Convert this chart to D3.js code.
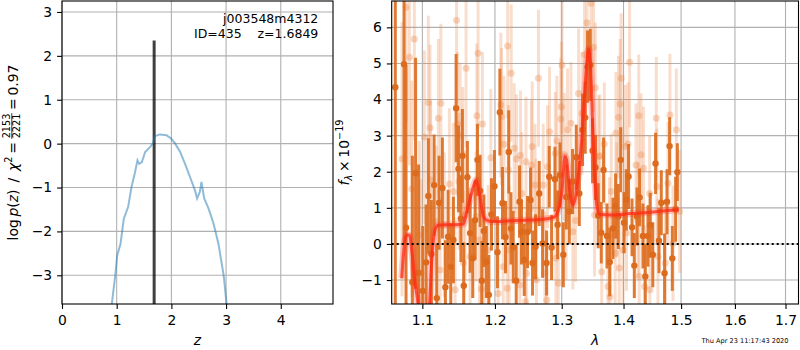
<!DOCTYPE html>
<html>
<head>
<meta charset="utf-8">
<script src="https://cdn.jsdelivr.net/npm/d3@7"></script>
<style>
  body { margin: 0; background: #fff; }
  svg text { font-family: "DejaVu Sans", sans-serif; }
</style>
</head>
<body>
<svg id="chart" width="800" height="350"></svg>
<script>
// ---------- left panel: log p(z)
const zGrid = [0.91, 0.97, 1.01, 1.07, 1.13, 1.21, 1.27, 1.33, 1.38, 1.41, 1.46, 1.52, 1.61, 1.66, 1.70, 1.79, 1.91,
               2.00, 2.07, 2.16, 2.25, 2.34, 2.43, 2.47, 2.52, 2.55, 2.60, 2.68, 2.77, 2.86, 2.92, 2.96, 3.01];
const logPz = [-3.66, -3.04, -2.54, -2.28, -1.71, -1.44, -0.99, -0.68, -0.38, -0.46, -0.42, -0.19, -0.08, 0.00, 0.17, 0.21, 0.19,
               0.11, 0.00, -0.19, -0.46, -0.76, -1.06, -1.25, -1.10, -0.87, -1.25, -1.48, -1.82, -2.28, -2.73, -3.04, -3.66];
const zBest = 1.6849;
const zBestTop = 2.35;
const objName = "j003548m4312";
const objLine = "ID=435    z=1.6849";
const zTicks = [0, 1, 2, 3, 4];
const pzTicks = [-3, -2, -1, 0, 1, 2, 3];

// ---------- right panel: spectrum (dark = main beam, light = other beams)
const darkWave = [1.0649, 1.0761, 1.0787, 1.0869, 1.0911, 1.0950, 1.1005, 1.1049, 1.1079, 1.1119,
                  1.1156, 1.1192, 1.1223, 1.1267, 1.1308, 1.1345, 1.1381, 1.1417, 1.1454, 1.1486,
                  1.1520, 1.1541, 1.1560, 1.1610, 1.1648, 1.1685, 1.1718, 1.1751, 1.1789, 1.1813,
                  1.1841, 1.1877, 1.1913, 1.1950, 1.1993, 1.2036, 1.2071, 1.2109, 1.2153, 1.2200,
                  1.2232, 1.2266, 1.2310, 1.2359, 1.2388, 1.2429, 1.2478, 1.2523, 1.2553, 1.2598,
                  1.2654, 1.2705, 1.2766, 1.2807, 1.2843, 1.2895, 1.2936, 1.2973, 1.3025, 1.3072,
                  1.3119, 1.3170, 1.3229, 1.3277, 1.3329, 1.3372, 1.3409, 1.3453, 1.3490, 1.3538,
                  1.3582, 1.3631, 1.3669, 1.3725, 1.3771, 1.3824, 1.3867, 1.3912, 1.3954, 1.4008,
                  1.4046, 1.4085, 1.4143, 1.4182, 1.4228, 1.4272, 1.4330, 1.4370, 1.4416, 1.4456,
                  1.4500, 1.4548, 1.4608, 1.4648, 1.4706, 1.4749, 1.4795, 1.4843, 1.4902, 1.4933];
const darkFlux = [4.34, 4.98, 0.45, -1.06, 1.96, -0.80, -1.30, -0.51, 1.33, -0.28,
                  1.63, -1.50, 1.14, 1.55, -1.20, 0.20, -0.63, 0.11, 3.76, 2.08,
                  0.70, 2.44, -1.16, 1.85, 0.30, -0.40, 0.66, 2.33, 1.47, -1.02,
                  0.36, -0.50, -1.41, 0.82, 1.60, -0.23, 3.65, 1.13, 0.19, 2.55,
                  0.43, -0.09, -1.02, 1.17, 0.33, -0.44, 0.33, 1.22, -0.53, -0.08,
                  1.40, 0.01, -0.53, 1.86, -0.10, 1.79, 0.53, 1.91, -0.30, 1.30,
                  0.90, 1.73, 2.40, 1.40, 3.16, 3.50, 4.91, 4.96, 2.58, 2.12,
                  0.78, 0.31, 2.05, 0.22, -0.50, 0.43, 1.05, 0.76, 2.33, 0.59,
                  1.22, 1.87, 0.46, -0.60, 0.76, 1.29, 0.22, -0.90, 0.22, 0.52,
                  -0.30, 2.23, 0.09, 1.14, -0.81, 1.17, 2.71, -0.40, 0.96, 1.99];
const darkErr = [6.0, 5.0, 4.5, 3.5, 3.2, 3.0, 1.8, 1.6, 1.6, 1.5,
                 1.4, 1.5, 1.3, 1.4, 1.3, 1.3, 1.2, 1.2, 1.5, 1.2,
                 1.2, 1.3, 1.2, 1.0, 1.1, 1.1, 1.1, 1.0, 1.0, 1.1,
                 1.0, 1.0, 1.1, 1.0, 1.0, 1.0, 1.2, 1.0, 1.0, 1.15,
                 1.0, 1.0, 1.0, 1.0, 0.9, 1.0, 1.0, 0.9, 0.9, 0.9,
                 0.9, 0.95, 0.9, 0.85, 0.9, 0.9, 0.95, 0.9, 0.9, 0.9,
                 0.9, 0.9, 0.9, 0.9, 1.0, 1.0, 1.0, 1.0, 0.9, 0.9,
                 0.9, 0.85, 0.9, 0.9, 0.95, 0.85, 0.9, 0.9, 0.9, 0.85,
                 0.85, 0.9, 0.8, 0.9, 0.8, 0.8, 0.9, 0.9, 0.85, 0.9,
                 0.9, 0.85, 0.9, 0.9, 1.1, 0.9, 0.8, 0.9, 0.9, 0.8];

const lightWave = [1.0735, 1.0787, 1.0830, 1.0861, 1.0895, 1.0960, 1.0985, 1.1026, 1.1079, 1.1102,
                   1.1110, 1.1182, 1.1213, 1.1236, 1.1247, 1.1294, 1.1362, 1.1417, 1.1440, 1.1460,
                   1.1474, 1.1495, 1.1509, 1.1546, 1.1555, 1.1578, 1.1592, 1.1648, 1.1732, 1.1742,
                   1.1760, 1.1779, 1.1805, 1.1821, 1.1846, 1.1902, 1.1941, 1.2046, 1.2085, 1.2095,
                   1.2119, 1.2130, 1.2177, 1.2185, 1.2195, 1.2205, 1.2236, 1.2280, 1.2314, 1.2365,
                   1.2372, 1.2392, 1.2448, 1.2455, 1.2462, 1.2538, 1.2548, 1.2590, 1.2604, 1.2612,
                   1.2643, 1.2715, 1.2741, 1.2770, 1.2781, 1.2811, 1.2900, 1.2910, 1.2925, 1.2947,
                   1.2985, 1.2995, 1.3005, 1.3041, 1.3068, 1.3091, 1.3144, 1.3175, 1.3217, 1.3265,
                   1.3319, 1.3361, 1.3400, 1.3464, 1.3506, 1.3522, 1.3534, 1.3587, 1.3610, 1.3638,
                   1.3681, 1.3741, 1.3767, 1.3775, 1.3795, 1.3860, 1.3873, 1.3885, 1.3916, 1.3928,
                   1.3944, 1.3960, 1.3991, 1.4030, 1.4050, 1.4075, 1.4102, 1.4211, 1.4245, 1.4258,
                   1.4265, 1.4297, 1.4340, 1.4358, 1.4445, 1.4450, 1.4561, 1.4570, 1.4590, 1.4718,
                   1.4766, 1.4800, 1.4855, 1.4915, 1.4973];
const lightFlux = [2.35, 6.56, 5.17, 1.52, 5.68, 0.25, -0.81, 2.96, 3.92, 3.22,
                   1.77, 0.62, 3.48, -0.72, 3.90, 0.53, 1.66, 1.45, -1.27, 6.20,
                   3.32, 1.73, 3.02, 2.45, -0.53, 0.80, 4.87, -0.35, 0.76, 3.55,
                   5.28, 0.11, -1.25, 3.32, -0.40, -0.17, 2.39, -1.37, 3.85, 3.53,
                   -0.63, 2.76, -1.23, 5.48, 2.05, -0.17, 4.73, 2.65, 2.35, -1.14,
                   2.45, 1.40, -1.60, 2.28, -0.81, 2.19, 2.70, 1.63, 0.66, -1.00,
                   4.59, 1.63, -0.81, -1.55, 2.14, 3.11, 2.51, -0.40, 2.86, -1.09,
                   3.46, 3.80, 4.96, 2.48, 0.71, 3.16, 3.34, 0.34, 0.65, 4.17,
                   3.62, 5.25, 6.13, 6.67, 5.45, 0.80, 4.33, 2.42, 2.44, -0.77,
                   2.77, -1.18, 0.25, -1.46, 1.45, -0.26, 3.07, 1.22, 3.51, -0.67,
                   3.88, 4.59, -0.17, 2.70, 0.30, 2.77, 5.03, 2.19, 0.66, 3.55,
                   -0.90, 2.47, 2.10, -1.18, 1.40, -1.27, 3.48, 1.59, -0.35, -0.53,
                   1.68, 3.57, 0.02, 3.16, 0.90];
const lightErr = [3.8, 3.2, 3.0, 3.0, 2.8, 2.6, 2.6, 2.4, 2.4, 2.3,
                  2.2, 2.1, 2.2, 2.0, 2.2, 2.0, 2.1, 1.9, 2.0, 2.3,
                  2.0, 1.9, 2.0, 1.9, 2.0, 1.8, 2.2, 1.9, 1.8, 2.0,
                  2.1, 1.8, 1.9, 2.0, 1.8, 1.8, 1.9, 1.9, 2.0, 1.9,
                  1.8, 1.9, 1.9, 2.0, 1.8, 1.8, 1.9, 1.8, 1.8, 1.8,
                  1.8, 1.7, 1.9, 1.8, 1.7, 1.8, 1.8, 1.7, 1.7, 1.8,
                  1.9, 1.7, 1.7, 1.8, 1.7, 1.8, 1.7, 1.7, 1.8, 1.8,
                  1.7, 1.8, 1.9, 1.7, 1.7, 1.7, 1.7, 1.6, 1.7, 1.8,
                  1.7, 1.8, 1.9, 1.9, 1.8, 1.7, 1.8, 1.7, 1.7, 1.7,
                  1.7, 1.7, 1.6, 1.7, 1.6, 1.6, 1.7, 1.6, 1.7, 1.7,
                  1.8, 1.8, 1.6, 1.7, 1.6, 1.7, 1.8, 1.7, 1.6, 1.7,
                  1.7, 1.7, 1.7, 1.7, 1.6, 1.7, 1.7, 1.6, 1.6, 1.7,
                  1.7, 1.7, 1.6, 1.7, 1.7];

// best-fit template
const modelWave = [1.0731, 1.0774, 1.0800, 1.0830, 1.0861, 1.0904, 1.0947, 1.0985, 1.1040, 1.1093,
                   1.1125, 1.1169, 1.1213, 1.1304, 1.1440, 1.1555, 1.1602, 1.1648, 1.1694, 1.1732,
                   1.1765, 1.1803, 1.1835, 1.1888, 1.1960, 1.2221, 1.2518, 1.2745, 1.2882, 1.2950,
                   1.3005, 1.3050, 1.3078, 1.3102, 1.3140, 1.3181, 1.3217, 1.3271, 1.3316, 1.3356,
                   1.3396, 1.3428, 1.3460, 1.3493, 1.3525, 1.3557, 1.3598, 1.3779, 1.4114, 1.4456,
                   1.4718, 1.4956];
const modelFlux = [-0.95, 0.11, 0.25, 0.25, -0.17, -1.09, -1.75, -3.0, -3.0, -1.75,
                   -0.44, 0.39, 0.52, 0.53, 0.53, 0.55, 0.90, 1.25, 1.59, 1.77,
                   1.55, 1.10, 0.76, 0.65, 0.62, 0.64, 0.66, 0.69, 0.74, 0.94,
                   1.50, 2.42, 2.30, 1.90, 1.30, 1.08, 1.30, 2.05, 2.90, 4.00,
                   5.00, 5.40, 4.80, 3.20, 1.90, 1.10, 0.82, 0.80, 0.84, 0.88,
                   0.92, 0.95];

const waveTicks = [1.1, 1.2, 1.3, 1.4, 1.5, 1.6, 1.7];
const fluxTicks = [-1, 0, 1, 2, 3, 4, 5, 6];
const stamp = "Thu Apr 23 11:17:43 2020";

// ---------- drawing
const svg = d3.select("#chart");
const fontSize = 13.9;
const gridColor = "#b0b0b0";
const orange = "#dd6b1d";

const boxL = {x0: 62, x1: 333, y0: 1, y1: 304};
const boxR = {x0: 391.7, x1: 798.5, y0: 1, y1: 304};

const xL = d3.scaleLinear().domain([0, 4.955]).range([boxL.x0, boxL.x1]);
const yL = d3.scaleLinear().domain([-3.654, 3.25]).range([boxL.y1, boxL.y0]);
const xR = d3.scaleLog().domain([1.0603, 1.7267]).range([boxR.x0, boxR.x1]);
const yR = d3.scaleLinear().domain([-1.664, 6.73]).range([boxR.y1, boxR.y0]);

const defs = svg.append("defs");
[["clipL", boxL], ["clipR", boxR]].forEach(([id, b]) => {
    defs.append("clipPath").attr("id", id).append("rect")
        .attr("x", b.x0).attr("y", b.y0).attr("width", b.x1 - b.x0).attr("height", b.y1 - b.y0);
});

function drawGrid(box, xs, ys, xt, yt) {
    let g = svg.append("g").attr("stroke", gridColor).attr("stroke-width", 1.1);
    g.selectAll(".gx").data(xt).enter().append("line")
        .attr("x1", d => xs(d)).attr("x2", d => xs(d))
        .attr("y1", box.y0).attr("y2", box.y1);
    g.selectAll(".gy").data(yt).enter().append("line")
        .attr("x1", box.x0).attr("x2", box.x1)
        .attr("y1", d => ys(d)).attr("y2", d => ys(d));
}

function styleAxis(g) {
    g.select(".domain").remove();
    g.attr("font-family", "DejaVu Sans").attr("font-size", fontSize);
    g.selectAll("text").attr("fill", "#000");
    g.selectAll("line").attr("stroke", "#000").attr("stroke-width", 1.1);
}

function drawAxes(box, xs, ys, xt, yt, xfmt, yfmt) {
    svg.append("g").attr("transform", `translate(0,${box.y1})`)
        .call(d3.axisBottom(xs).tickValues(xt).tickSize(4.9).tickPadding(5.8).tickFormat(xfmt))
        .call(styleAxis);
    svg.append("g").attr("transform", `translate(${box.x0},0)`)
        .call(d3.axisLeft(ys).tickValues(yt).tickSize(4.9).tickPadding(4.9).tickFormat(yfmt))
        .call(styleAxis);
    svg.append("rect")
        .attr("x", box.x0).attr("y", box.y0)
        .attr("width", box.x1 - box.x0).attr("height", box.y1 - box.y0)
        .attr("fill", "none").attr("stroke", "#000").attr("stroke-width", 1.1);
}

// left panel
drawGrid(boxL, xL, yL, zTicks, pzTicks);

let plotL = svg.append("g").attr("clip-path", "url(#clipL)");

plotL.append("line")
    .attr("x1", xL(zBest)).attr("x2", xL(zBest))
    .attr("y1", yL(-3.654)).attr("y2", yL(zBestTop))
    .attr("stroke", "#000").attr("stroke-opacity", 0.75).attr("stroke-width", 3);

plotL.append("path")
    .datum(d3.zip(zGrid, logPz))
    .attr("fill", "none")
    .attr("stroke", "#1f77b4").attr("stroke-opacity", 0.5).attr("stroke-width", 2)
    .attr("d", d3.line().x(d => xL(d[0])).y(d => yL(d[1])));

drawAxes(boxL, xL, yL, zTicks, pzTicks, d3.format("d"), d3.format("d"));

svg.append("text").attr("x", 318.3).attr("y", 23.3)
    .attr("text-anchor", "end").attr("font-size", 12.5).text(objName);
svg.append("text").attr("x", 318.3).attr("y", 38.3)
    .attr("text-anchor", "end").attr("font-size", 12.5)
    .style("white-space", "pre").text(objLine);

// right panel
drawGrid(boxR, xR, yR, waveTicks, fluxTicks);

let plotR = svg.append("g").attr("clip-path", "url(#clipR)");

let lightData = d3.zip(lightWave, lightFlux, lightErr);
let darkData = d3.zip(darkWave, darkFlux, darkErr);

plotR.append("g").selectAll("line").data(lightData).enter().append("line")
    .attr("x1", d => xR(d[0])).attr("x2", d => xR(d[0]))
    .attr("y1", d => yR(d[1] - d[2])).attr("y2", d => yR(d[1] + d[2]))
    .attr("stroke", "#ec8a4a").attr("stroke-opacity", 0.28).attr("stroke-width", 3);
plotR.append("g").selectAll("circle").data(lightData).enter().append("circle")
    .attr("cx", d => xR(d[0])).attr("cy", d => yR(d[1])).attr("r", 3.5)
    .attr("fill", "#ec8a4a").attr("fill-opacity", 0.35);

plotR.append("g").selectAll("line").data(darkData).enter().append("line")
    .attr("x1", d => xR(d[0])).attr("x2", d => xR(d[0]))
    .attr("y1", d => yR(d[1] - d[2])).attr("y2", d => yR(d[1] + d[2]))
    .attr("stroke", orange).attr("stroke-opacity", 0.9).attr("stroke-width", 3);
plotR.append("g").selectAll("circle").data(darkData).enter().append("circle")
    .attr("cx", d => xR(d[0])).attr("cy", d => yR(d[1])).attr("r", 3.2)
    .attr("fill", orange);

let modelLine = d3.line().curve(d3.curveMonotoneX)
    .x(d => xR(d[0])).y(d => yR(d[1]));
let modelData = d3.zip(modelWave, modelFlux);
plotR.append("path").datum(modelData)
    .attr("fill", "none").attr("stroke", "#ff3030").attr("stroke-opacity", 0.25)
    .attr("stroke-width", 7).attr("d", modelLine);
plotR.append("path").datum(modelData)
    .attr("fill", "none").attr("stroke", "#ff2a10").attr("stroke-opacity", 0.75)
    .attr("stroke-width", 3).attr("d", modelLine);

// zero line
svg.append("line")
    .attr("x1", boxR.x0).attr("x2", boxR.x1)
    .attr("y1", yR(0)).attr("y2", yR(0))
    .attr("stroke", "#000").attr("stroke-width", 2).attr("stroke-dasharray", "2,3");

drawAxes(boxR, xR, yR, waveTicks, fluxTicks, d3.format(".1f"), d3.format("d"));

// axis labels
svg.append("text").attr("x", (boxL.x0 + boxL.x1) / 2).attr("y", 345)
    .attr("text-anchor", "middle").attr("font-size", fontSize).attr("font-style", "italic").text("z");
svg.append("text").attr("x", (boxR.x0 + boxR.x1) / 2).attr("y", 345)
    .attr("text-anchor", "middle").attr("font-size", fontSize).attr("font-style", "italic").text("λ");

// left y label: log p(z) / chi^2 = 2153/2221 = 0.97
let yl = svg.append("g").attr("transform", "translate(17.5,152.5) rotate(-90)");
let ylInner = yl.append("g");
let t1 = ylInner.append("text").attr("font-size", fontSize);
t1.append("tspan").text("log\u2009");
t1.append("tspan").attr("font-style", "italic").text("p");
t1.append("tspan").text("(");
t1.append("tspan").attr("font-style", "italic").text("z");
t1.append("tspan").text(")\u2002/\u2002");
t1.append("tspan").attr("font-style", "italic").text("χ");
t1.append("tspan").attr("font-size", 9.7).attr("dy", -5.5).text("2");
t1.append("tspan").attr("dy", 5.5).text("\u2009=\u2009");
let w1 = t1.node().getComputedTextLength();
let num = ylInner.append("text").attr("font-size", 9.7).attr("text-anchor", "middle").text("2153");
let fw = num.node().getComputedTextLength() + 2;
num.attr("x", w1 + fw / 2).attr("y", -7.3);
ylInner.append("text").attr("font-size", 9.7).attr("text-anchor", "middle")
    .attr("x", w1 + fw / 2).attr("y", 2.7).text("2221");
ylInner.append("line").attr("x1", w1 + 0.5).attr("x2", w1 + fw - 0.5)
    .attr("y1", -5.7).attr("y2", -5.7).attr("stroke", "#000").attr("stroke-width", 0.8);
let t3 = ylInner.append("text").attr("font-size", fontSize).attr("x", w1 + fw).text("\u2009=\u20090.97");
let total = w1 + fw + t3.node().getComputedTextLength();
ylInner.attr("transform", `translate(${-total / 2},0)`);

// right y label: f_lambda x 10^-19
let yr = svg.append("g").attr("transform", "translate(348.5,152.5) rotate(-90)");
let yrInner = yr.append("g");
let t4 = yrInner.append("text").attr("font-size", fontSize);
t4.append("tspan").attr("font-style", "italic").text("f");
t4.append("tspan").attr("font-style", "italic").attr("font-size", 9.7).attr("dy", 3).text("λ");
t4.append("tspan").attr("dy", -3).text("\u2009×\u200910");
t4.append("tspan").attr("font-size", 9.7).attr("dy", -6).text("−19");
let w4 = t4.node().getComputedTextLength();
yrInner.attr("transform", `translate(${-w4 / 2},0)`);

// timestamp
svg.append("text").attr("x", 788.5).attr("y", 343)
    .attr("text-anchor", "end").attr("font-size", 6.6).text(stamp);
</script>
</body>
</html>
